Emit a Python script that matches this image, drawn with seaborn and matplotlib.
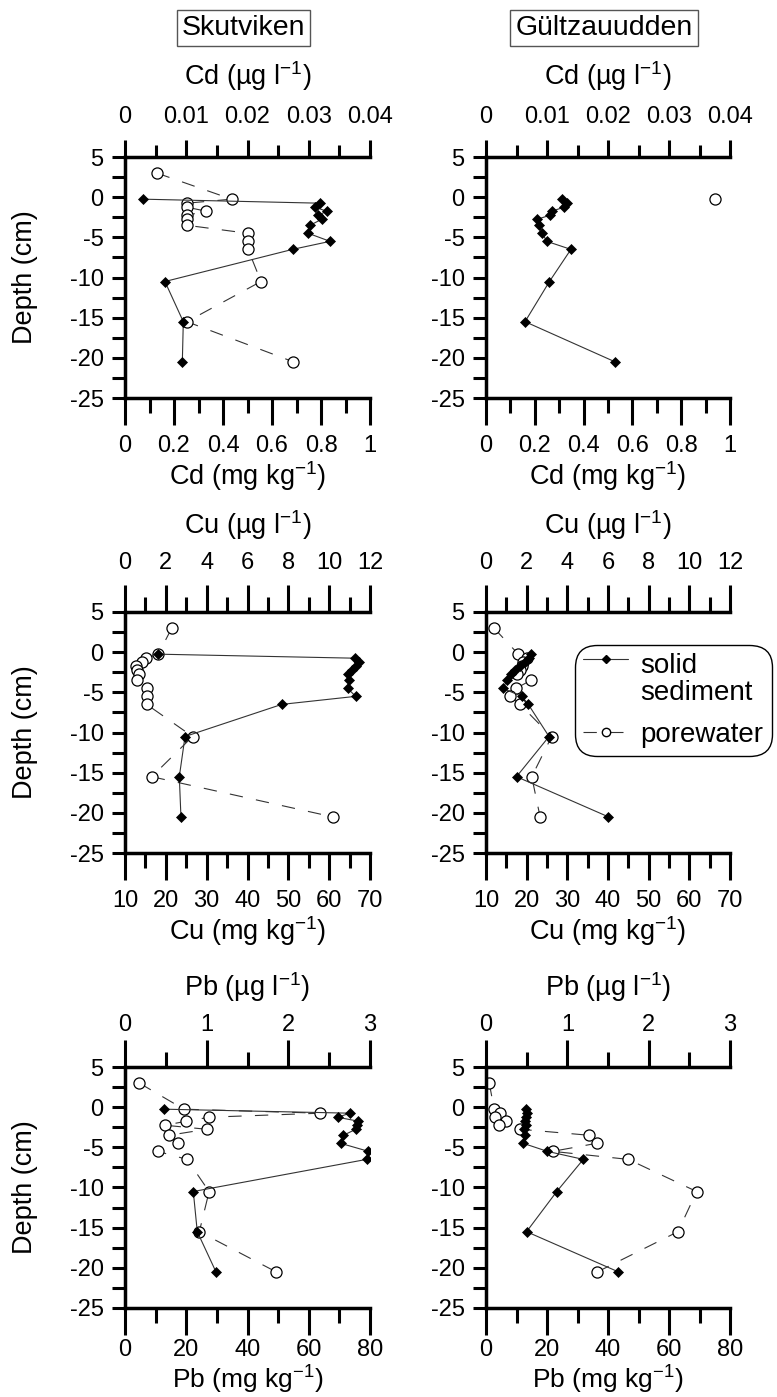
import numpy as np
import matplotlib
matplotlib.use("Agg")
import matplotlib.pyplot as plt
import matplotlib.transforms as mtransforms
import seaborn as sns
from matplotlib.ticker import FuncFormatter
from matplotlib.lines import Line2D
from matplotlib.legend_handler import HandlerLine2D

sns.set_theme(style="white")
plt.rcParams['font.family'] = ['Liberation Sans', 'DejaVu Sans']
plt.rcParams['mathtext.default'] = 'regular'
plt.rcParams['axes.edgecolor'] = 'black'
plt.rcParams['xtick.color'] = 'black'
plt.rcParams['ytick.color'] = 'black'
plt.rcParams['text.color'] = 'black'
plt.rcParams['axes.labelcolor'] = 'black'

# ---------------- data ----------------
sites = ["Skutviken", "Gültzauudden"]
depth_solid = [-0.25, -0.75, -1.25, -1.75, -2.25, -2.75, -3.5, -4.5, -5.5, -6.5, -10.5, -15.5, -20.5]
depth_pw = [3.0, -0.25, -0.75, -1.25, -1.75, -2.25, -2.75, -3.5, -4.5, -5.5, -6.5, -10.5, -15.5, -20.5]
depth_pw_cd_gult = [-0.25]

# Cd: solid (mg/kg), porewater (ug/l)
cd_skut_solid = [0.075, 0.796, 0.776, 0.823, 0.789, 0.803, 0.755, 0.748, 0.837, 0.684, 0.163, 0.238, 0.234]
cd_skut_pw = [0.0052, 0.0174, 0.0101, 0.0101, 0.0133, 0.0101, 0.0101, 0.0101, 0.0201, 0.0201, 0.0201, 0.0222, 0.0101, 0.0275]
cd_gult_solid = [0.310, 0.333, 0.320, 0.269, 0.262, 0.210, 0.217, 0.231, 0.249, 0.348, 0.260, 0.160, 0.529]
cd_gult_pw = [0.0375]

# Cu
cu_skut_solid = [18.2, 66.3, 67.4, 66.5, 65.5, 64.7, 64.9, 64.5, 66.5, 48.4, 24.7, 23.3, 23.7]
cu_skut_pw = [2.29, 1.63, 1.03, 0.82, 0.54, 0.57, 0.70, 0.57, 1.09, 1.06, 1.06, 3.31, 1.31, 10.17]
cu_gult_solid = [21.0, 20.6, 19.6, 18.4, 17.1, 16.1, 15.2, 14.1, 18.8, 20.4, 25.5, 17.5, 40.1]
cu_gult_pw = [0.39, 1.59, 2.0, 1.83, 1.75, 1.67, 1.51, 2.21, 1.48, 1.18, 1.67, 3.23, 2.25, 2.66]

# Pb
pb_skut_solid = [12.7, 73.5, 69.4, 76.2, 75.6, 75.4, 71.3, 70.4, 79.5, 78.9, 22.3, 23.6, 29.7]
pb_skut_pw = [0.175, 0.72, 2.39, 1.03, 0.75, 0.49, 1.0, 0.54, 0.65, 0.40, 0.76, 1.03, 0.91, 1.85]
pb_gult_solid = [13.0, 13.3, 13.1, 12.8, 13.0, 12.6, 12.8, 12.2, 20.1, 31.9, 23.2, 13.3, 43.4]
pb_gult_pw = [0.04, 0.10, 0.17, 0.11, 0.25, 0.16, 0.42, 1.27, 1.36, 0.82, 1.75, 2.59, 2.36, 1.37]

bottom_labels = ['Cd (mg kg$^{-1}$)', 'Cu (mg kg$^{-1}$)', 'Pb (mg kg$^{-1}$)']
top_labels = ['Cd (µg l$^{-1}$)', 'Cu (µg l$^{-1}$)', 'Pb (µg l$^{-1}$)']
legend_labels = ['solid\nsediment', 'porewater']

# ---------------- layout ----------------
W, H = 777, 1397
fig = plt.figure(figsize=(W / 100, H / 100), dpi=100)
fig.patch.set_facecolor('white')

col_x = [(125, 245), (486, 244)]
row_bottom_px = [398, 853, 1308]
ax_h = 241

# row, col, solid, pw, pw depth, bottom lim, bottom major/minor step, top lim, top major/minor step,
# top tick lengths, top tick pad, top label y, bottom tick pad, bottom label y, bottom label size
panels = [
    (0, 0, cd_skut_solid, cd_skut_pw, depth_pw, (0, 1), 0.2, 0.1, (0, 0.04), 0.01, 0.005, (12.2, 8.6), 9.0, 1.298, 7, -0.255, 19.5),
    (0, 1, cd_gult_solid, cd_gult_pw, depth_pw_cd_gult, (0, 1), 0.2, 0.1, (0, 0.04), 0.01, 0.005, (12.2, 8.6), 9.0, 1.298, 7, -0.255, 19.5),
    (1, 0, cu_skut_solid, cu_skut_pw, depth_pw, (10, 70), 10, 5, (0, 12), 2, 1, (19.4, 10.8), 8.0, 1.324, 7, -0.255, 19.5),
    (1, 1, cu_gult_solid, cu_gult_pw, depth_pw, (10, 70), 10, 5, (0, 12), 2, 1, (19.4, 10.8), 8.0, 1.324, 7, -0.255, 19.5),
    (2, 0, pb_skut_solid, pb_skut_pw, depth_pw, (0, 80), 20, 10, (0, 3), 1, 0.5, (19.4, 10.8), 3.2, 1.296, 3, -0.232, 19),
    (2, 1, pb_gult_solid, pb_gult_pw, depth_pw, (0, 80), 20, 10, (0, 3), 1, 0.5, (19.4, 10.8), 3.2, 1.296, 3, -0.232, 19),
]

fmt = FuncFormatter(lambda v, p: f"{v:g}")
SP_LW = 2.5
TK_W = 2.2
LINE_C = '#333333'


def ticks(lo, hi, step):
    return list(np.round(np.arange(lo, hi + step / 2, step), 6))


class TopLineHandler(HandlerLine2D):
    """Place the legend handle level with the first line of a two-line label."""
    def __init__(self, shift_px, **kw):
        super().__init__(**kw)
        self.shift_px = shift_px

    def create_artists(self, legend, orig_handle, xdescent, ydescent, width, height,
                       fontsize, trans):
        arts = super().create_artists(legend, orig_handle, xdescent, ydescent, width,
                                      height, fontsize, trans)
        t = mtransforms.Affine2D().translate(0, self.shift_px) + trans
        for a in arts:
            a.set_transform(t)
        return arts


for (r, c, solid, pw, dpw, blim, bmaj, bmin, tlim, tmaj, tmin, tlen, tpad, tlab_y,
     bpad, blab_y, blab_fs) in panels:
    x0, w = col_x[c]
    ax = fig.add_axes([x0 / W, 1 - row_bottom_px[r] / H, w / W, ax_h / H])
    ax2 = ax.twiny()

    sns.lineplot(x=pw, y=dpw, ax=ax2, sort=False, estimator=None, color=LINE_C,
                 linewidth=0.8, linestyle=(0, (12, 12)), marker='o', markersize=8,
                 markerfacecolor='white', markeredgecolor='black', markeredgewidth=0.9)
    sns.lineplot(x=solid, y=depth_solid, ax=ax, sort=False, estimator=None, color=LINE_C,
                 linewidth=0.8, marker='D', markersize=5.4, markerfacecolor='black',
                 markeredgecolor='black', markeredgewidth=0.5)

    ax.set_zorder(ax2.get_zorder() + 1)
    ax.patch.set_visible(False)

    ax.set_ylim(-25, 5)
    ax.set_xlim(*blim)
    ax2.set_xlim(*tlim)

    ax.set_xticks(ticks(blim[0], blim[1], bmaj))
    ax.set_xticks(ticks(blim[0], blim[1], bmin), minor=True)
    ax.set_yticks(ticks(-25, 5, 5))
    ax.set_yticks(ticks(-25, 5, 2.5), minor=True)
    ax2.set_xticks(ticks(tlim[0], tlim[1], tmaj))
    ax2.set_xticks(ticks(tlim[0], tlim[1], tmin), minor=True)
    ax.xaxis.set_major_formatter(fmt)
    ax.yaxis.set_major_formatter(fmt)
    ax2.xaxis.set_major_formatter(fmt)

    for s in ['top', 'right']:
        ax.spines[s].set_visible(False)
    for s in ['left', 'bottom']:
        ax.spines[s].set_linewidth(SP_LW)
        ax.spines[s].set_color('black')
    for s in ['bottom', 'left', 'right']:
        ax2.spines[s].set_visible(False)
    ax2.spines['top'].set_linewidth(SP_LW)
    ax2.spines['top'].set_color('black')

    ax.tick_params(axis='x', which='major', direction='out', length=19.4, width=TK_W,
                   labelsize=17, pad=bpad, bottom=True, top=False)
    ax.tick_params(axis='x', which='minor', direction='out', length=10.8, width=TK_W,
                   bottom=True, top=False)
    ax.tick_params(axis='y', which='both', direction='out', length=9.4, width=TK_W,
                   labelsize=17, pad=6, left=True, right=False)
    ax2.tick_params(axis='x', which='major', direction='out', length=tlen[0], width=TK_W,
                    labelsize=17, pad=tpad, top=True, bottom=False)
    ax2.tick_params(axis='x', which='minor', direction='out', length=tlen[1], width=TK_W,
                    top=True, bottom=False)

    ax.set_xlabel(bottom_labels[r], fontsize=blab_fs)
    ax.xaxis.set_label_coords(0.5, blab_y)
    ax2.set_xlabel(top_labels[r], fontsize=19.5)
    ax2.xaxis.set_label_coords(0.5, tlab_y)
    if c == 0:
        ax.set_ylabel('Depth (cm)', fontsize=19.5)
        ax.yaxis.set_label_coords(-0.355, 0.5)
    else:
        ax.set_ylabel('')
    ax.grid(False)
    ax2.grid(False)

    if r == 1 and c == 1:
        h_solid = Line2D([], [], color=LINE_C, lw=0.8, marker='D', markersize=4,
                         markerfacecolor='black', markeredgecolor='black')
        h_pw = Line2D([], [], color=LINE_C, lw=0.8, linestyle=(0, (12, 12)), marker='o',
                      markersize=6, markerfacecolor='white', markeredgecolor='black')
        leg = fig.legend([h_solid, h_pw], legend_labels, loc='upper left',
                         bbox_to_anchor=(575 / W, 1 - 645 / H), bbox_transform=fig.transFigure,
                         fontsize=20, handlelength=1.6, handletextpad=0.45, labelspacing=0.55,
                         borderpad=0.3, borderaxespad=0, frameon=True, fancybox=True,
                         numpoints=1,
                         handler_map={h_solid: TopLineHandler(15.5)})
        for t in leg.get_texts():
            t.set_linespacing(1.05)
        frame = leg.get_frame()
        frame.set_edgecolor('black')
        frame.set_linewidth(1.0)
        frame.set_facecolor('white')
        frame.set_alpha(1)
        frame.set_boxstyle('round', pad=0, rounding_size=0.8)

# site titles
title_x = [243.5, 604]
for name, tx in zip(sites, title_x):
    fig.text(tx / W, 1 - 28 / H, name, ha='center', va='center', fontsize=20.5,
             bbox=dict(boxstyle='square,pad=0.18', fc='white', ec='#555555', lw=1.0))

fig.savefig('out.png', dpi=100)
